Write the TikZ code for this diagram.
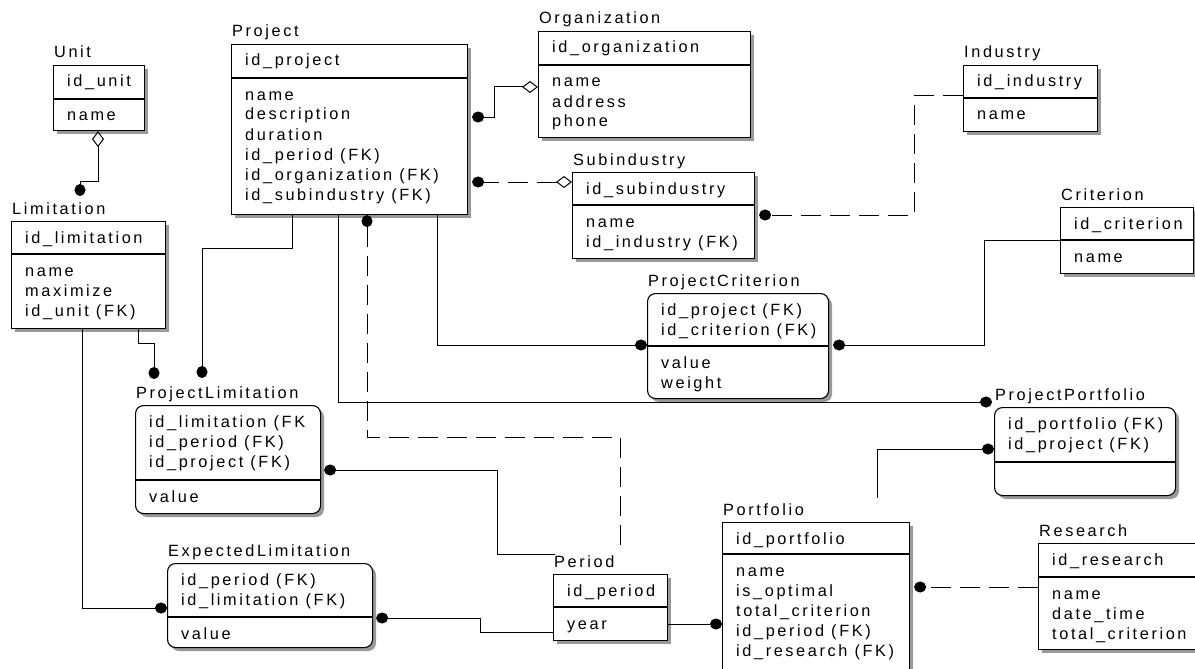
\documentclass[tikz,border=0pt]{standalone}
\usepackage{fontspec}
\newfontfamily\erfamily[LetterSpace=16]{Liberation Sans}
\usetikzlibrary{calc}
\usetikzlibrary{arrows.meta}
\newcommand{\erfont}{\erfamily\fontsize{16.3pt}{20pt}\selectfont}
\tikzstyle{entity}=[draw, line width=1.1pt, fill=white, inner sep=0pt, anchor=north west]
\tikzstyle{entshadow}=[fill=gray!80]
\tikzstyle{enttitle}=[anchor=base west, inner sep=0pt, font=\erfont]
\tikzstyle{field}=[anchor=base west, inner sep=0pt, font=\erfont]
\tikzstyle{rel}=[line width=1pt]
\tikzstyle{nonid}=[rel, dash pattern=on 20pt off 9pt]
\tikzset{erdot/.tip={Circle[length=12pt,width=11pt]}, erdia/.tip={Diamond[length=16pt,width=12pt,fill=white]}}
\newcommand{\entity}[7][]{% Syntax: [box options] {name}{title}{top left}{width}{height}{key height}
  \fill[entshadow, #1] ($(#4)+(4,4)$) rectangle ++(#5,#6);
  \node[entity, #1, minimum width=#5pt, minimum height=#6pt] (#2) at (#4) {};
  \node[enttitle] (#2-title) at ($(#2.north west)+(1,-7)$) {#3};
  \draw[line width=1.1pt] ($(#2.north west)+(0,#7)$) -- ($(#2.north east)+(0,#7)$);
}
\newcommand{\entkeys}[2]{% primary key lines, above the divider
  \foreach \f [count=\i from 0] in {#2} {\node[field] (#1-k\i) at ($(#1.north west)+(14,22+20*\i)$) {\f};}
}
\newcommand{\entattrs}[3]{% #2 = key height, so the list starts under the divider
  \foreach \f [count=\i from 0] in {#3} {\node[field] (#1-a\i) at ($(#1.north west)+(14,#2+22+20*\i)$) {\f};}
}
\begin{document}
\begin{tikzpicture}[x=1pt, y=-1pt]
  \useasboundingbox (0,0) rectangle (1195,669);
  \clip (0,0) rectangle (1195,669);
  \begin{scope}
  % independent entities
  \entity{unit}{Unit}{53,65}{91}{65}{34}
  \entkeys{unit}{id\_unit}
  \entattrs{unit}{34}{name}
  \entity{lim}{Limitation}{11,221}{154}{107}{33}
  \entkeys{lim}{id\_limitation}
  \entattrs{lim}{33}{name, maximize, id\_unit (FK)}
  \entity{prj}{Project}{231,44}{236}{170}{34}
  \entkeys{prj}{id\_project}
  \entattrs{prj}{34}{name, description, duration, id\_period (FK), id\_organization (FK), id\_subindustry (FK)}
  \entity{org}{Organization}{538,31}{212}{106}{34}
  \entkeys{org}{id\_organization}
  \entattrs{org}{34}{name, address, phone}
  \entity{sub}{Subindustry}{572,172}{182}{86}{33}
  \entkeys{sub}{id\_subindustry}
  \entattrs{sub}{33}{name, id\_industry (FK)}
  \entity{ind}{Industry}{963,65}{134}{66}{33}
  \entkeys{ind}{id\_industry}
  \entattrs{ind}{33}{name}
  \entity{crit}{Criterion}{1060,207}{133}{66}{33}
  \entkeys{crit}{id\_criterion}
  \entattrs{crit}{33}{name}
  \entity{per}{Period}{553,574}{114}{66}{33}
  \entkeys{per}{id\_period}
  \entattrs{per}{33}{year}
  \entity{pf}{Portfolio}{722,522}{187}{160}{32}
  \entkeys{pf}{id\_portfolio}
  \entattrs{pf}{32}{name, is\_optimal, total\_criterion, id\_period (FK), id\_research (FK)}
  \entity{res}{Research}{1038,543}{160}{106}{34}
  \entkeys{res}{id\_research}
  \entattrs{res}{34}{name, date\_time, total\_criterion}
  % dependent entities
  \entity[rounded corners=8pt]{pcrit}{ProjectCriterion}{647,293}{181}{105}{53}
  \entkeys{pcrit}{id\_project (FK), id\_criterion (FK)}
  \entattrs{pcrit}{53}{value, weight}
  \entity[rounded corners=8pt]{ppf}{ProjectPortfolio}{994,407}{181}{88}{55}
  \entkeys{ppf}{id\_portfolio (FK), id\_project (FK)}
  \entity[rounded corners=8pt]{plim}{ProjectLimitation}{135,405}{185}{108}{75}
  \entkeys{plim}{id\_limitation (FK, id\_period (FK), id\_project (FK)}
  \entattrs{plim}{75}{value}
  \entity[rounded corners=8pt]{elim}{ExpectedLimitation}{167,563}{205}{84}{54}
  \entkeys{elim}{id\_period (FK), id\_limitation (FK)}
  \entattrs{elim}{54}{value}
  \end{scope}
  % relationships
  \draw[rel, erdia-erdot] ($(unit.south west)+(45,0)$) -- ++(0,50) -| ($(lim.north west)+(69,-25)$);
  \draw[rel, erdia-erdot] ($(org.north west)+(0,56)$) -- ++(-44,0) |- ($(prj.north east)+(4,73)$);
  \draw[nonid, erdia-erdot] ($(sub.north west)+(0,10)$) -- ($(prj.north east)+(4,138)$);
  \draw[nonid, -erdot] ($(ind.north west)+(0,31)$) -- ++(-49,0) |- ($(sub.north east)+(4,43)$);
  \draw[rel, -erdot] ($(crit.north west)+(0,33)$) -- ++(-76,0) |- ($(pcrit.north east)+(4,52)$);
  \draw[rel, -erdot] ($(prj.south west)+(206,0)$) |- ($(pcrit.north west)+(0,52)$);
  \draw[rel, -erdot] ($(prj.south west)+(107,0)$) |- ($(ppf.north west)+(-2,-5)$);
  \draw[rel, -erdot] ($(prj.south west)+(61,0)$) -- ++(0,33) -| ($(plim.north west)+(67,-27)$);
  \draw[rel, -erdot] ($(lim.south west)+(127,0)$) -- ++(0,14) -| ($(plim.north west)+(19,-26)$);
  \draw[nonid, erdot-] ($(prj.south west)+(136,0)$) -- ++(0,222) -| ($(per.north west)+(67,-24)$);
  \draw[rel, erdot-] ($(plim.north east)+(3,65)$) -- ++(173,0) |- ($(per.north west)+(2,-20)$);
  \draw[rel, -erdot] ($(lim.south west)+(71,0)$) |- ($(elim.north west)+(0,45)$);
  \draw[rel, -erdot] ($(per.north west)+(0,58)$) -- ++(-73,0) |- ($(elim.north east)+(3,55)$);
  \draw[rel, -erdot] ($(per.north east)+(0,50)$) -- ($(pf.north west)+(0,102)$);
  \draw[rel, -erdot] ($(pf.north west)+(155,-24)$) |- ($(ppf.north west)+(0,42)$);
  \draw[nonid, -erdot] ($(res.north west)+(0,44)$) -- ($(pf.north east)+(4,65)$);
\end{tikzpicture}
\end{document}
